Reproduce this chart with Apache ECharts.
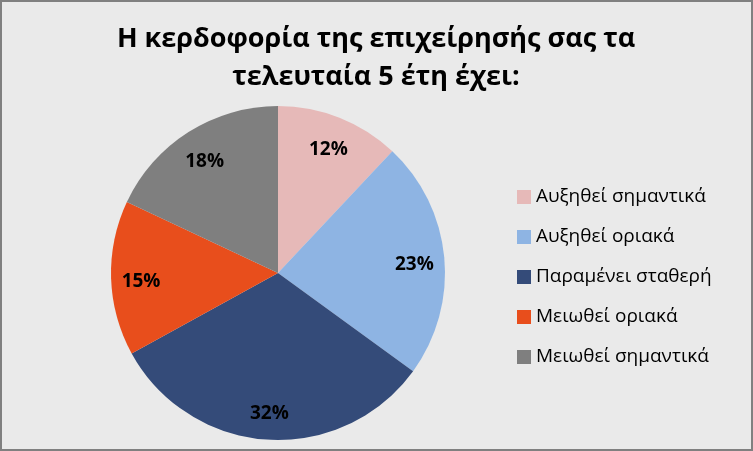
<!DOCTYPE html>
<html>
<head>
<meta charset="utf-8">
<script src="https://cdn.jsdelivr.net/npm/echarts@6/dist/echarts.min.js"></script>
<style>
html,body{margin:0;padding:0;background:#EAEAEA;}
#c{width:753px;height:451px;}
</style>
</head>
<body>
<div id="c"></div>
<script>
const titleLines = ['Η κερδοφορία της επιχείρησής σας τα', 'τελευταία 5 έτη έχει:'];
const categories = ['Αυξηθεί σημαντικά', 'Αυξηθεί οριακά', 'Παραμένει σταθερή', 'Μειωθεί οριακά', 'Μειωθεί σημαντικά'];
const values = [12, 23, 32, 15, 18];
const colors = ['#E6B9B8', '#8EB4E3', '#344B79', '#E84E1C', '#7F7F7F'];

const FONT = '"Open Sans", "Noto Sans", sans-serif';
const chart = echarts.init(document.getElementById('c'), null, {renderer: 'canvas'});
const data = categories.map((n, i) => ({name: n, value: values[i], itemStyle: {color: colors[i]}}));

chart.setOption({
  backgroundColor: '#EAEAEA',
  animation: false,
  title: {
    text: titleLines.join('\n'),
    left: 376, top: 20, textAlign: 'center', padding: 0,
    textStyle: {fontFamily: FONT, fontWeight: 'bold', fontSize: 27, lineHeight: 38, color: '#000'}
  },
  legend: {
    orient: 'vertical', left: 512, top: 182,
    itemWidth: 14, itemHeight: 14, itemGap: 20,
    icon: 'rect',
    data: categories,
    textStyle: {fontFamily: FONT, fontSize: 19, lineHeight: 20, color: '#000'}
  },
  graphic: [{
    type: 'rect', silent: true, z: 100,
    shape: {x: 1, y: 1, width: 751, height: 449},
    style: {fill: 'none', stroke: '#808080', lineWidth: 2}
  }],
  series: [{
    type: 'pie', center: [278, 273], radius: [0, 167],
    startAngle: 90, clockwise: true,
    label: {show: false}, labelLine: {show: false},
    itemStyle: {borderWidth: 0},
    data: data
  }, {
    type: 'pie', center: [278, 273], radius: [101, 167],
    startAngle: 90, clockwise: true, silent: true,
    itemStyle: {color: 'rgba(0,0,0,0)', borderWidth: 0},
    label: {show: true, position: 'inside', formatter: '{c}%', fontFamily: FONT, fontWeight: 'bold', fontSize: 19, color: '#000', offset: [0, 4]},
    labelLine: {show: false},
    legendHoverLink: false,
    data: categories.map((n, i) => ({name: n + ' ', value: values[i]}))
  }]
});
</script>
</body>
</html>
